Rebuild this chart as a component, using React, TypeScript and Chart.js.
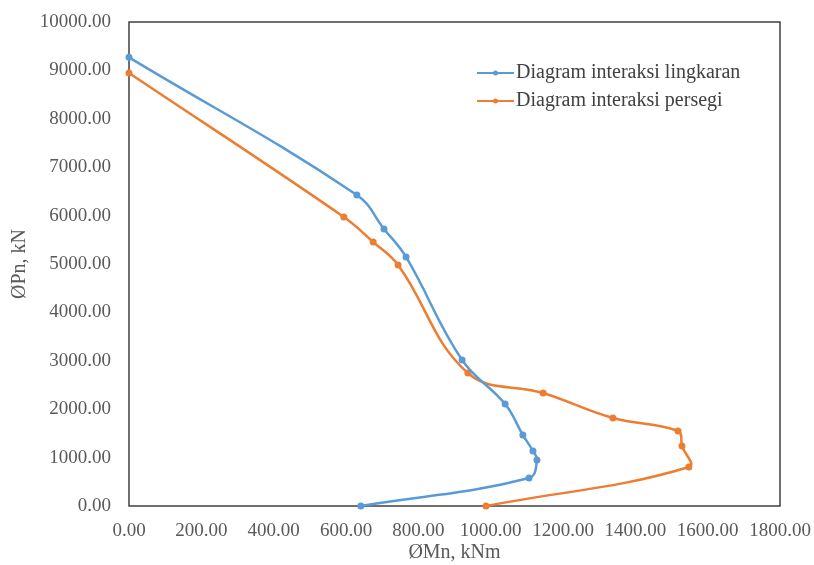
import React, { useEffect, useRef } from "react";
import { Chart, registerables } from "chart.js";

Chart.register(...registerables);

// ØMn (kNm) and ØPn (kN)
const circleMn = [0, 630, 705, 766, 921, 1040, 1089, 1117, 1128, 1106, 641];
const circlePn = [9270, 6425, 5725, 5145, 3017, 2107, 1467, 1136, 950, 578, 0];
const squareMn = [0, 594, 675, 744, 937, 1145, 1338, 1518, 1529, 1548, 987];
const squarePn = [8946, 5971, 5455, 4979, 2748, 2335, 1818, 1550, 1240, 806, 0];
const seriesLabels = ["Diagram interaksi lingkaran", "Diagram interaksi persegi"];
const seriesColors = ["#5B9BD5", "#ED7D31"];
const xAxisTitle = "ØMn, kNm";
const yAxisTitle = "ØPn, kN";

const SERIF = '"Liberation Serif", "Times New Roman", serif';

const boxPlugin = {
  id: "plotBox",
  beforeDatasetsDraw(chart: any) {
    const { ctx, chartArea } = chart;
    ctx.save();
    ctx.strokeStyle = "#404040";
    ctx.lineWidth = 1.5;
    ctx.strokeRect(chartArea.left, chartArea.top, chartArea.right - chartArea.left, chartArea.bottom - chartArea.top);
    ctx.restore();
  },
};

const legendPlugin = {
  id: "insideLegend",
  afterDraw(chart: any) {
    const { ctx, chartArea } = chart;
    ctx.save();
    ctx.font = `20px ${SERIF}`;
    ctx.textBaseline = "middle";
    chart.data.datasets.forEach((ds: any, i: number) => {
      const y = chartArea.top + 51 + i * 28;
      const x0 = chartArea.right - 303;
      const x1 = x0 + 37;
      ctx.strokeStyle = ds.borderColor;
      ctx.lineWidth = 2.2;
      ctx.beginPath();
      ctx.moveTo(x0, y);
      ctx.lineTo(x1, y);
      ctx.stroke();
      ctx.fillStyle = ds.borderColor;
      ctx.beginPath();
      ctx.arc((x0 + x1) / 2, y, 2.5, 0, Math.PI * 2);
      ctx.fill();
      ctx.fillStyle = "#404040";
      ctx.fillText(ds.label, x1 + 2, y);
    });
    ctx.restore();
  },
};

export default function App() {
  const ref = useRef<HTMLCanvasElement>(null);
  useEffect(() => {
    document.body.style.margin = "0";
    const toPts = (xs: number[], ys: number[]) => xs.map((x, i) => ({ x, y: ys[i] }));
    const mk = (i: number, pts: any[]) => ({
      label: seriesLabels[i],
      data: pts,
      showLine: true,
      borderColor: seriesColors[i],
      backgroundColor: seriesColors[i],
      borderWidth: 2.5,
      pointRadius: 3.5,
      pointBorderWidth: 0,
      tension: 0.4,
      clip: false as any,
    });
    const chart = new Chart(ref.current!, {
      type: "scatter",
      data: {
        datasets: [mk(0, toPts(circleMn, circlePn)), mk(1, toPts(squareMn, squarePn))],
      },
      plugins: [boxPlugin, legendPlugin],
      options: {
        responsive: false,
        animation: false,
        layout: { padding: { top: 22, right: 34, left: 0, bottom: 0 } },
        plugins: { legend: { display: false }, tooltip: { enabled: false } },
        scales: {
          x: {
            type: "linear",
            min: 0,
            max: 1800,
            grid: { display: false, drawTicks: false },
            border: { display: false },
            ticks: {
              stepSize: 200,
              autoSkip: false,
              maxRotation: 0,
              minRotation: 0,
              padding: 14,
              color: "#595959",
              font: { family: SERIF, size: 19 },
              callback: (v: any) => Number(v).toFixed(2),
            },
            title: {
              display: true,
              text: xAxisTitle,
              color: "#595959",
              font: { family: SERIF, size: 20 },
              padding: { top: 0, bottom: 0 },
            },
            afterFit: (s: any) => {
              s.height = 59;
              s.paddingLeft = 0;
              s.paddingRight = 0;
            },
          },
          y: {
            type: "linear",
            min: 0,
            max: 10000,
            grid: { display: false, drawTicks: false },
            border: { display: false },
            ticks: {
              stepSize: 1000,
              autoSkip: false,
              padding: 18,
              color: "#595959",
              font: { family: SERIF, size: 19 },
              callback: (v: any) => Number(v).toFixed(2),
            },
            title: {
              display: true,
              text: yAxisTitle,
              color: "#595959",
              font: { family: SERIF, size: 20 },
              padding: { top: 8, bottom: 0 },
            },
            afterFit: (s: any) => {
              s.width = 129;
              s.paddingTop = 0;
              s.paddingBottom = 0;
            },
          },
        },
      },
    });
    return () => chart.destroy();
  }, []);
  return <canvas ref={ref} width={814} height={565} />;
}
